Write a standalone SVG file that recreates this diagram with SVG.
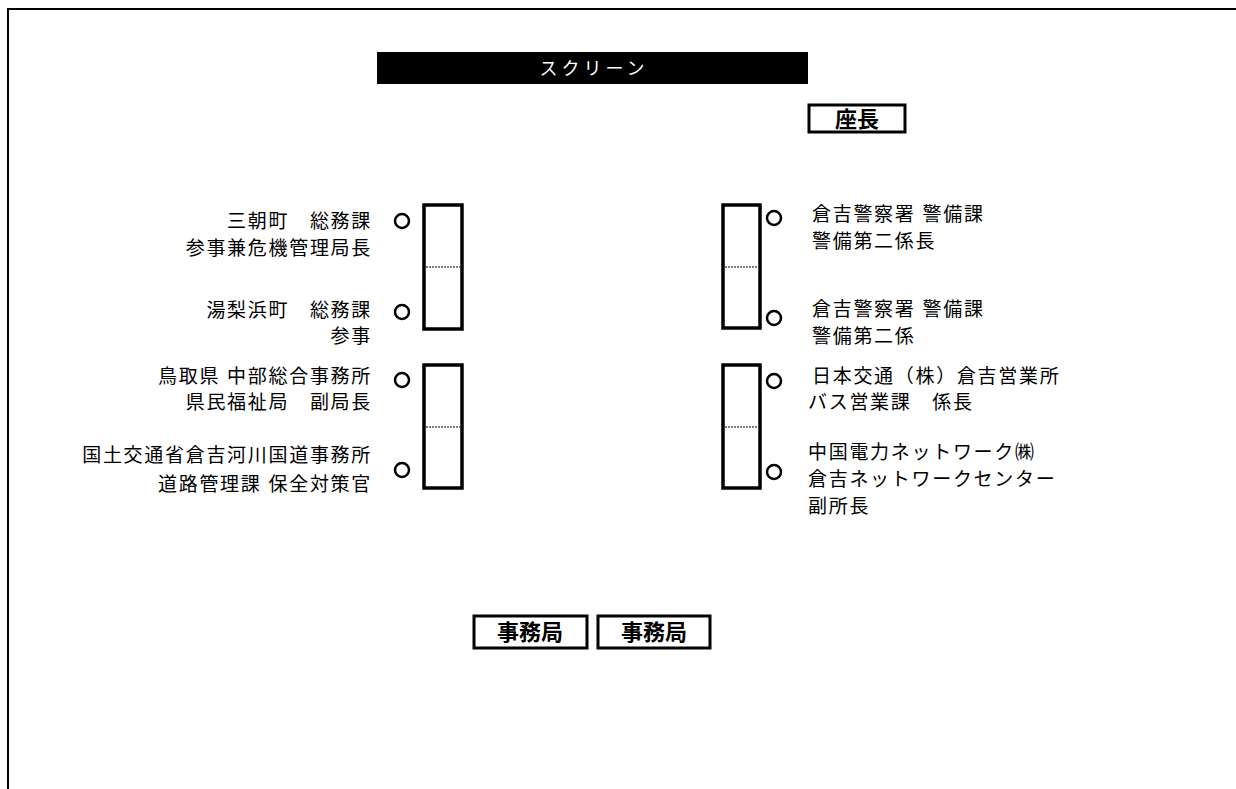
<svg xmlns="http://www.w3.org/2000/svg" width="1236" height="789" viewBox="0 0 1236 789">
<style>
.lbl{font-family:"Liberation Sans","Noto Sans CJK JP",sans-serif;font-size:19px;letter-spacing:1.7px;fill:#000}
.r{text-anchor:end}
.tbl{fill:#fff;stroke:#000;stroke-width:3.5}
.div{stroke:#555;stroke-width:1.5;stroke-dasharray:2 1}
.seat{fill:#fff;stroke:#000;stroke-width:2.5}
.box{fill:#fff;stroke:#000;stroke-width:3}
.bt{font-family:"Noto Sans CJK JP",sans-serif;font-weight:bold;font-size:22px;text-anchor:middle;fill:#000}
</style>
<rect width="1236" height="789" fill="#fff"/>
<path d="M8,800 V9 H1250" fill="none" stroke="#000" stroke-width="2"/>
<g id="screen">
<rect x="377" y="52" width="431" height="32" fill="#000"/>
<text x="594" y="75" font-family="Noto Sans CJK JP,sans-serif" font-size="18" letter-spacing="4" text-anchor="middle" fill="#fff">スクリーン</text>
</g>
<g id="chair">
<rect x="809" y="105" width="96" height="27" class="box"/>
<text x="857" y="127" class="bt">座長</text>
</g>
<g id="table-left-1">
<rect x="424" y="205" width="38" height="124" class="tbl"/>
<line x1="426" y1="267" x2="460" y2="267" class="div"/>
</g>
<g id="table-left-2">
<rect x="424" y="365" width="38" height="123" class="tbl"/>
<line x1="426" y1="427" x2="460" y2="427" class="div"/>
</g>
<g id="table-right-1">
<rect x="723" y="205" width="37" height="123" class="tbl"/>
<line x1="725" y1="267" x2="758" y2="267" class="div"/>
</g>
<g id="table-right-2">
<rect x="723" y="365" width="37" height="123" class="tbl"/>
<line x1="725" y1="427" x2="758" y2="427" class="div"/>
</g>
<g id="seat-l1"><circle cx="402" cy="221" r="7" class="seat"/>
<text class="lbl r" y="228"><tspan x="372">三朝町　総務課</tspan><tspan x="372" dy="27">参事兼危機管理局長</tspan></text></g>
<g id="seat-l2"><circle cx="402" cy="312" r="7" class="seat"/>
<text class="lbl r" y="317"><tspan x="372">湯梨浜町　総務課</tspan><tspan x="372" dy="26">参事</tspan></text></g>
<g id="seat-l3"><circle cx="402" cy="380" r="7" class="seat"/>
<text class="lbl r" y="383"><tspan x="372">鳥取県 中部総合事務所</tspan><tspan x="372" dy="26">県民福祉局　副局長</tspan></text></g>
<g id="seat-l4"><circle cx="402" cy="470" r="7" class="seat"/>
<text class="lbl r" y="462"><tspan x="372">国土交通省倉吉河川国道事務所</tspan><tspan x="372" dy="29">道路管理課 保全対策官</tspan></text></g>
<g id="seat-r1"><circle cx="774" cy="218" r="7" class="seat"/>
<text class="lbl" y="221"><tspan x="812">倉吉警察署 警備課</tspan><tspan x="812" dy="27">警備第二係長</tspan></text></g>
<g id="seat-r2"><circle cx="774" cy="318" r="7" class="seat"/>
<text class="lbl" y="316"><tspan x="812">倉吉警察署 警備課</tspan><tspan x="812" dy="27">警備第二係</tspan></text></g>
<g id="seat-r3"><circle cx="774" cy="381" r="7" class="seat"/>
<text class="lbl" y="383"><tspan x="812">日本交通（株）倉吉営業所</tspan><tspan x="808" dy="26">バス営業課　係長</tspan></text></g>
<g id="seat-r4"><circle cx="774" cy="472" r="7" class="seat"/>
<text class="lbl" y="459"><tspan x="808">中国電力ネットワーク㈱</tspan><tspan x="808" dy="27">倉吉ネットワークセンター</tspan><tspan x="808" dy="27">副所長</tspan></text></g>
<g id="secretariat-1">
<rect x="474" y="616" width="113" height="32" class="box"/>
<text x="530" y="640" class="bt">事務局</text>
</g>
<g id="secretariat-2">
<rect x="598" y="616" width="112" height="32" class="box"/>
<text x="654" y="640" class="bt">事務局</text>
</g>
</svg>
